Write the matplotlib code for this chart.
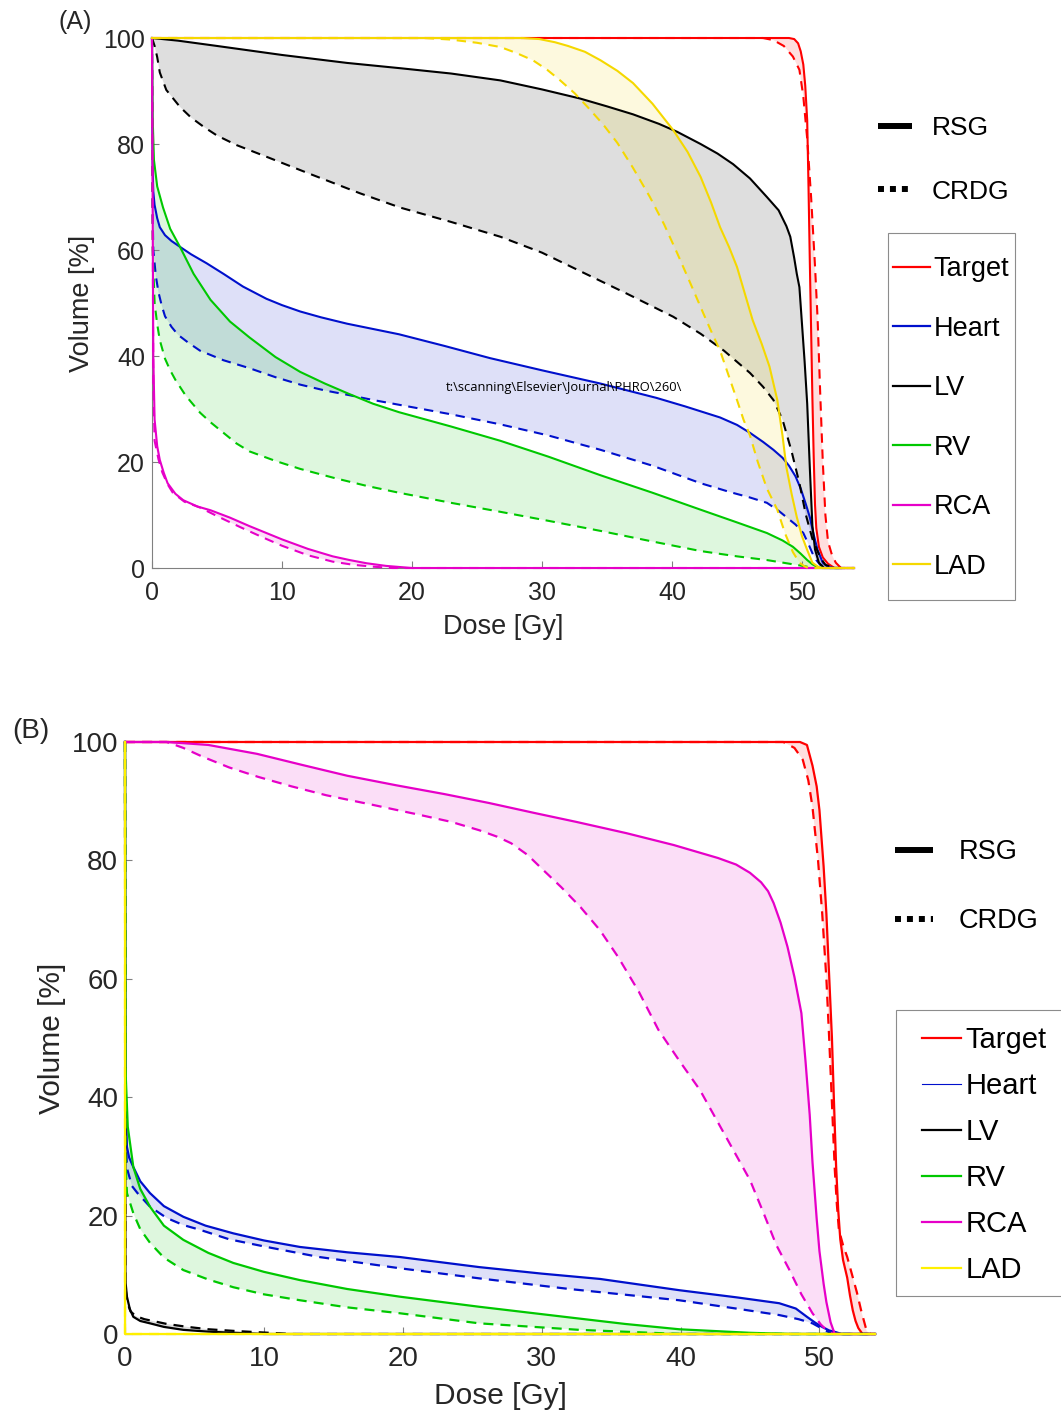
import matplotlib
matplotlib.use('Agg')
import matplotlib.pyplot as plt
from matplotlib.lines import Line2D
from matplotlib.patches import Rectangle
import numpy as np

plt.rcParams['font.family'] = ['Liberation Sans', 'DejaVu Sans']

structures = ['Target', 'Heart', 'LV', 'RV', 'RCA', 'LAD']
dose_ticks = [0, 10, 20, 30, 40, 50]
volume_ticks = [0, 20, 40, 60, 80, 100]

# ---- panel A: cumulative DVHs (dose in Gy, volume in %) ----
a_target_rsg_d = [0, 49.0, 49.4, 49.7, 49.9, 50.1, 50.25, 50.4, 50.5, 50.6, 50.7, 50.8, 50.9, 51.0, 51.1, 51.3, 51.6, 52.0, 52.5, 54]
a_target_rsg_v = [100, 100, 99.8, 99, 97.5, 95, 91, 84.5, 72, 58, 45, 32, 21, 12, 7.5, 4, 2, 0.8, 0, 0]
a_target_crdg_d = [0, 47.0, 47.8, 48.6, 49.3, 49.8, 50.1, 50.4, 50.7, 51.0, 51.2, 51.4, 51.6, 51.8, 52.0, 52.3, 52.6, 53.0, 54]
a_target_crdg_v = [100, 100, 99.6, 98.5, 96.5, 94, 89, 81, 70, 57, 47, 33, 20, 10, 5, 2.5, 1, 0, 0]

a_heart_rsg_d = [0, 0.02, 0.05, 0.1, 0.2, 0.4, 0.6, 1.0, 1.5, 2.15, 3, 4.2, 5.5, 7, 8.8, 10, 11.4, 13, 15, 17, 19, 22.5, 26, 30, 34.5, 38.8, 41, 43.7, 45, 46, 47, 47.8, 48.5, 49, 49.5, 49.9, 50.3, 50.6, 50.9, 51.2, 51.6, 52, 52.5, 53]
a_heart_rsg_v = [100, 85, 75, 71, 68.5, 66, 64.3, 62.8, 61.7, 60.6, 59.2, 57.5, 55.5, 53.1, 50.8, 49.6, 48.4, 47.3, 46.1, 45.1, 44.1, 41.9, 39.6, 37.3, 34.8, 32.1, 30.5, 28.4, 27, 25.5, 23.8, 22.3, 20.8, 19.3, 17.3, 15, 12, 9.6, 6.3, 3.4, 1, 0.2, 0, 0]
a_heart_crdg_d = [0, 0.03, 0.1, 0.3, 0.5, 0.75, 1.0, 1.5, 2.0, 2.8, 3.7, 5.5, 7.5, 9.5, 11.4, 13.3, 15.2, 17, 19, 23, 26.8, 30.5, 34.5, 38.5, 42.2, 44.5, 46, 47.3, 48.2, 48.8, 49.5, 50.1, 50.5, 50.8, 51.1, 51.4, 52, 53]
a_heart_crdg_v = [100, 70, 60, 55, 52, 49.5, 47.5, 45.5, 44, 42.5, 41, 39.2, 37.7, 36.0, 34.6, 33.5, 32.6, 31.7, 30.8, 29, 27.1, 25, 22.3, 19.3, 16, 14.3, 13.3, 12.3, 10.8, 9.6, 8.2, 6.6, 4.5, 2.8, 1.5, 0.6, 0, 0]

a_lv_rsg_d = [0, 2, 5, 10, 15, 19.1, 23, 26.8, 30, 32.9, 35, 37, 39, 40.4, 42.2, 43.5, 44.7, 46, 47.3, 48.2, 48.8, 49.1, 49.4, 49.6, 49.8, 50.0, 50.2, 50.4, 50.6, 50.8, 51.0, 51.3, 51.7, 54]
a_lv_rsg_v = [100, 99.5, 98.5, 96.8, 95.3, 94.3, 93.3, 92, 90.3, 88.6, 87.1, 85.6, 83.8, 82.3, 80, 78.2, 76.2, 73.5, 70, 67.5, 64.5, 62.5, 58.5, 55.5, 53, 46, 39, 31, 19, 8, 3.5, 1, 0, 0]
a_lv_crdg_d = [0, 0.2, 0.4, 0.6, 1.1, 2.15, 3, 4, 5, 6.5, 8.8, 12, 16, 19.1, 23, 26.8, 30, 33.2, 36.5, 40.1, 42.2, 44, 46, 47, 47.8, 48.5, 49.2, 49.8, 50.3, 50.8, 51.4, 51.8, 52.5, 54]
a_lv_crdg_v = [100, 98.5, 96.4, 93.5, 90.2, 87, 85, 83.2, 81.6, 79.8, 77.6, 74.5, 70.7, 68, 65.3, 62.5, 59.5, 55.7, 51.8, 47.4, 44.2, 41, 36.8, 34.2, 31.7, 28, 22, 16, 10, 5.5, 2, 0.6, 0, 0]

a_rv_rsg_d = [0, 0.05, 0.15, 0.4, 0.85, 1.4, 2.15, 3.2, 4.5, 6, 7.5, 9.5, 11.4, 13.3, 15.2, 17, 19, 23, 26.8, 30.5, 34.5, 38.5, 42.2, 45, 47.3, 48.5, 49.3, 49.9, 50.4, 50.8, 51.2, 51.6, 53]
a_rv_rsg_v = [100, 85, 77, 72, 68, 64, 60.6, 55.5, 50.6, 46.5, 43.5, 39.8, 37, 34.8, 32.8, 31, 29.4, 26.7, 24, 21, 17.5, 14.2, 11, 8.6, 6.6, 5.2, 4, 2.7, 1.5, 0.7, 0.2, 0, 0]
a_rv_crdg_d = [0, 0.05, 0.2, 0.4, 0.6, 1.0, 1.4, 1.8, 2.6, 3.7, 4.5, 5.5, 6.5, 7.5, 9.5, 11.4, 14, 16.5, 19, 23, 26.8, 30.5, 34.5, 38.5, 42.2, 45, 47.3, 48.8, 49.8, 50.5, 51, 53]
a_rv_crdg_v = [100, 60, 50, 46, 43, 39.5, 37.3, 35.5, 32.5, 29.3, 27.5, 25.5, 23.5, 22, 20.2, 18.7, 17, 15.5, 14.2, 12.3, 10.6, 8.9, 7, 5, 3.2, 2.2, 1.5, 0.9, 0.5, 0.2, 0, 0]

a_rca_rsg_d = [0, 0.1, 0.2, 0.4, 0.6, 0.9, 1.2, 1.8, 2.4, 3.5, 4.5, 6, 7.5, 8.8, 10, 12, 13.9, 15.2, 16.5, 18, 19, 20, 54]
a_rca_rsg_v = [100, 40, 28, 23, 20.4, 18, 16, 14, 12.8, 11.6, 10.9, 9.5, 7.9, 6.6, 5.4, 3.6, 2.2, 1.5, 0.9, 0.4, 0.2, 0, 0]
a_rca_crdg_d = [0, 0.1, 0.2, 0.5, 0.8, 1.2, 1.6, 2.5, 3.7, 5, 6.8, 8.5, 10, 12, 13.9, 15.5, 17, 18.5, 54]
a_rca_crdg_v = [100, 35, 24, 20.5, 18, 15.8, 14.2, 12.5, 11.4, 9.8, 7.7, 5.8, 4.2, 2.4, 1.2, 0.6, 0.25, 0, 0]

a_lad_rsg_d = [0, 28.5, 29.8, 31, 32, 33.3, 34.5, 35.8, 37, 38.5, 40.1, 41.2, 42.2, 43, 43.7, 44.4, 45, 45.6, 46.2, 46.9, 47.5, 48.1, 48.5, 48.8, 49.2, 49.6, 50, 50.4, 50.8, 51.2, 51.5, 54]
a_lad_rsg_v = [100, 100, 99.8, 99.2, 98.5, 97.4, 95.8, 93.8, 91.5, 87.6, 82.6, 78.5, 73.8, 69, 64.3, 60.5, 56.8, 51.8, 46.8, 42.3, 38, 31.7, 25, 19, 14, 9.6, 6, 3.4, 1, 0.3, 0, 0]
a_lad_crdg_d = [0, 21, 23, 25, 26.8, 28, 29.3, 30.4, 31.4, 32.5, 33.5, 34.7, 35.8, 37, 38.3, 39.4, 40.4, 41.4, 42.4, 43.1, 43.7, 44.4, 45, 45.5, 46, 46.6, 47.3, 48.1, 48.7, 49.3, 49.8, 50.2, 50.5, 54]
a_lad_crdg_v = [100, 100, 99.7, 99.1, 98.3, 97.2, 95.8, 94, 92, 89.6, 87, 83.7, 80.2, 75.5, 70, 64.8, 59.4, 53.8, 48.1, 44.2, 41, 36, 31.7, 28, 25, 20, 15, 11, 6.5, 3, 1, 0.3, 0, 0]

# ---- panel B ----
b_target_rsg_d = [0, 48.6, 49.1, 49.5, 49.8, 50.0, 50.3, 50.5, 50.7, 50.9, 51.05, 51.2, 51.35, 51.5, 51.7, 52.0, 52.2, 52.4, 52.6, 52.8, 53.1, 54]
b_target_rsg_v = [100, 100, 99.5, 96, 92.5, 88.5, 79, 71, 60.5, 50, 39, 28.4, 21, 16, 12.5, 9.5, 6.5, 4, 2.2, 1, 0, 0]
b_target_crdg_d = [0, 47.4, 48.2, 48.8, 49.2, 49.5, 49.9, 50.2, 50.5, 50.7, 50.9, 51.1, 51.25, 51.4, 51.7, 52.0, 52.35, 52.7, 53.0, 53.4, 53.7, 54]
b_target_crdg_v = [100, 100, 99, 97, 93.5, 89, 80, 71, 60, 50, 39, 28, 22, 17.6, 15, 13, 10, 7, 4, 0.5, 0, 0]

b_heart_rsg_d = [0, 0.03, 0.14, 0.3, 0.6, 1.1, 1.8, 2.8, 4.2, 5.8, 7.8, 10, 12.6, 16, 19.8, 25.5, 30, 34.2, 39.9, 44, 47.1, 48.3, 49.1, 49.7, 50.2, 50.7, 51.2, 51.6, 54]
b_heart_rsg_v = [100, 40, 31.6, 29.8, 28.2, 25.8, 23.8, 21.6, 19.8, 18.3, 17, 15.8, 14.7, 13.8, 13, 11.3, 10.2, 9.3, 7.4, 6.2, 5.2, 4.3, 2.9, 1.9, 1.2, 0.6, 0.3, 0, 0]
b_heart_crdg_d = [0, 0.03, 0.14, 0.5, 0.9, 1.8, 3, 4.2, 5.4, 7.5, 10.2, 14, 19.8, 25.5, 32, 39.9, 44, 47.1, 48.5, 49.5, 50.2, 50.7, 51.2, 54]
b_heart_crdg_v = [100, 35, 28, 25, 23.8, 21.5, 19.6, 18.4, 17.6, 16, 14.7, 13, 11.1, 9.4, 7.6, 5.7, 4.3, 3.2, 2.5, 1.8, 0.9, 0.3, 0, 0]

b_lv_rsg_d = [0, 0.03, 0.14, 0.35, 0.6, 1.1, 1.8, 2.8, 4.2, 6, 7.8, 10, 54]
b_lv_rsg_v = [100, 9, 6.3, 4.2, 2.9, 2.2, 1.8, 1.2, 0.7, 0.4, 0.2, 0, 0]
b_lv_crdg_d = [0, 0.03, 0.14, 0.4, 0.8, 1.4, 2.0, 3, 4.5, 6, 8, 12, 54]
b_lv_crdg_v = [100, 8, 5.5, 3.8, 3, 2.5, 2.2, 1.7, 1.2, 0.8, 0.5, 0, 0]

b_rv_rsg_d = [0, 0.03, 0.2, 0.6, 1.1, 1.8, 2.8, 4.2, 6, 7.8, 10, 12.6, 16, 19.8, 25.5, 32, 36, 39.9, 45, 48, 54]
b_rv_rsg_v = [100, 45, 35, 28.2, 24.5, 21.5, 18.3, 15.9, 13.7, 12, 10.5, 9.1, 7.6, 6.3, 4.6, 2.8, 1.7, 0.8, 0.2, 0, 0]
b_rv_crdg_d = [0, 0.03, 0.14, 0.6, 1.1, 1.8, 2.8, 4.2, 6, 7.8, 10, 12.6, 16, 19.8, 25.5, 32.7, 40, 54]
b_rv_crdg_v = [100, 30, 23.8, 20.4, 17.7, 15.4, 12.9, 10.8, 9.2, 7.9, 6.7, 5.7, 4.5, 3.5, 1.8, 0.7, 0, 0]

b_rca_rsg_d = [0, 3.0, 6, 9.5, 12.8, 16, 19.5, 23, 26.2, 29.5, 32.5, 36.1, 39.5, 42.7, 44, 45, 45.8, 46.3, 46.7, 47.2, 47.7, 48.2, 48.7, 49.0, 49.3, 49.5, 49.8, 50.0, 50.3, 50.5, 50.8, 51.1, 54]
b_rca_rsg_v = [100, 100, 99.5, 98, 96.1, 94.3, 92.7, 91.2, 89.7, 88, 86.5, 84.6, 82.6, 80.4, 79.3, 77.9, 76.3, 74.8, 72.8, 69.5, 65.4, 60.3, 54.2, 46, 37, 29, 19.5, 14, 8.5, 5.4, 2, 0, 0]
b_rca_crdg_d = [0, 3.0, 4.2, 5.6, 7.5, 9.6, 12, 14.5, 17.8, 21.2, 23.5, 25.5, 26.8, 27.8, 29, 30.1, 31.4, 32.8, 34.2, 35.5, 37, 38.4, 39.9, 41.4, 43.2, 45, 46, 46.9, 47.8, 48.7, 49.5, 50.1, 50.5, 51, 54]
b_rca_crdg_v = [100, 100, 99, 97.5, 95.7, 94.1, 92.5, 91, 89.4, 87.7, 86.5, 85.1, 84, 82.9, 80.9, 78.4, 75.5, 72.1, 68.2, 63.7, 57.8, 51.4, 46.2, 41.2, 33.6, 26, 20.3, 15, 11, 6.7, 3.5, 1.6, 0.7, 0, 0]

b_lad_rsg_d = [0, 0, 54]
b_lad_rsg_v = [100, 0, 0]
b_lad_crdg_d = [0, 0, 54]
b_lad_crdg_v = [100, 0, 0]

colors_a = {'Target': '#ff0000', 'Heart': '#0010cc', 'LV': '#000000',
            'RV': '#00c800', 'RCA': '#e600c8', 'LAD': '#f5d800'}
colors_b = dict(colors_a, LAD='#fff000')

curves_a = {
    'Target': (a_target_rsg_d, a_target_rsg_v, a_target_crdg_d, a_target_crdg_v),
    'Heart': (a_heart_rsg_d, a_heart_rsg_v, a_heart_crdg_d, a_heart_crdg_v),
    'LV': (a_lv_rsg_d, a_lv_rsg_v, a_lv_crdg_d, a_lv_crdg_v),
    'RV': (a_rv_rsg_d, a_rv_rsg_v, a_rv_crdg_d, a_rv_crdg_v),
    'RCA': (a_rca_rsg_d, a_rca_rsg_v, a_rca_crdg_d, a_rca_crdg_v),
    'LAD': (a_lad_rsg_d, a_lad_rsg_v, a_lad_crdg_d, a_lad_crdg_v),
}
curves_b = {
    'Target': (b_target_rsg_d, b_target_rsg_v, b_target_crdg_d, b_target_crdg_v),
    'Heart': (b_heart_rsg_d, b_heart_rsg_v, b_heart_crdg_d, b_heart_crdg_v),
    'LV': (b_lv_rsg_d, b_lv_rsg_v, b_lv_crdg_d, b_lv_crdg_v),
    'RV': (b_rv_rsg_d, b_rv_rsg_v, b_rv_crdg_d, b_rv_crdg_v),
    'RCA': (b_rca_rsg_d, b_rca_rsg_v, b_rca_crdg_d, b_rca_crdg_v),
    'LAD': (b_lad_rsg_d, b_lad_rsg_v, b_lad_crdg_d, b_lad_crdg_v),
}

DASH = (0, (4.5, 3.2))
W, H = 1061, 1414


def draw_dvh(ax, curves, colors, lw):
    # shaded band between the two plans
    for name in structures:
        d_r, v_r, d_c, v_c = curves[name]
        ax.fill(np.r_[d_r, d_c[::-1]], np.r_[v_r, v_c[::-1]],
                color=colors[name], alpha=0.13, lw=0, zorder=1)
    for name in structures:
        d_r, v_r, d_c, v_c = curves[name]
        ax.plot(d_c, v_c, color=colors[name], lw=lw, ls=DASH, clip_on=False, zorder=3)
        ax.plot(d_r, v_r, color=colors[name], lw=lw, clip_on=False, zorder=3)


def style_axes(ax, fs, labelfs, ylabelpad):
    ax.set_xlim(0, 54)
    ax.set_ylim(0, 100)
    ax.set_xticks(dose_ticks)
    ax.set_yticks(volume_ticks)
    for s in ['top', 'right']:
        ax.spines[s].set_visible(False)
    for s in ['left', 'bottom']:
        ax.spines[s].set_color('#808080')
        ax.spines[s].set_linewidth(0.8)
    ax.tick_params(direction='in', length=5, width=0.8, color='#808080',
                   labelsize=fs, labelcolor='#262626', pad=5)
    ax.tick_params(axis='x', pad=9)
    ax.set_xlabel('Dose [Gy]', fontsize=labelfs, color='#262626', labelpad=7)
    ax.set_ylabel('Volume [%]', fontsize=labelfs, color='#262626', labelpad=ylabelpad)


fig = plt.figure(figsize=(10.61, 14.14), dpi=100)
ax_a = fig.add_axes([0.14326, 0.59830, 0.66164, 0.37482])
ax_b = fig.add_axes([0.11781, 0.05658, 0.70688, 0.41867])

draw_dvh(ax_a, curves_a, colors_a, 1.5)
draw_dvh(ax_b, curves_b, colors_b, 1.6)
style_axes(ax_a, 18, 19.5, 6)
style_axes(ax_b, 20, 21.5, 4)

fig.text(75 / W, 1 - 22 / H, '(A)', ha='center', va='center', fontsize=18, color='#262626')
fig.text(31 / W, 1 - 731 / H, '(B)', ha='center', va='center', fontsize=20, color='#262626')
fig.text(446 / W, 1 - 387 / H, 't:\\scanning\\Elsevier\\Journal\\PHRO\\260\\',
         ha='left', va='center', fontsize=9.3, family=['Open Sans', 'DejaVu Sans'])


def structure_legend(ax, colors, fs, anchor, spacing, heart_lw):
    handles = [Line2D([], [], color=colors[n], lw=(heart_lw if n == 'Heart' else 1.6))
               for n in structures]
    return ax.legend(handles, structures, loc='upper left', bbox_to_anchor=anchor,
                     bbox_transform=fig.transFigure, fontsize=fs, frameon=False,
                     handlelength=1.35, handletextpad=0.15, labelspacing=spacing,
                     borderpad=0, borderaxespad=0)


def plan_legend(ax, fs, anchor, spacing, handlelength, textpad):
    handles = [Line2D([], [], color='k', lw=4.3, solid_capstyle='butt'),
               Line2D([], [], color='k', lw=4.3, ls=(0, (1, 1)), dash_capstyle='butt')]
    return ax.legend(handles, ['RSG', 'CRDG'], loc='upper left', bbox_to_anchor=anchor,
                     bbox_transform=fig.transFigure, fontsize=fs, frameon=False,
                     handlelength=handlelength, handletextpad=textpad,
                     labelspacing=spacing, borderpad=0, borderaxespad=0)


def legend_box(leg, left, right, top, bottom):
    # frame around a legend, padded in pixels around its contents
    bb = leg.get_window_extent(renderer=fig.canvas.get_renderer())
    x0, x1 = (bb.x0 - left) / W, (bb.x1 + right) / W
    y0, y1 = (bb.y0 - bottom) / H, (bb.y1 + top) / H
    fig.add_artist(Rectangle((x0, y0), x1 - x0, y1 - y0, transform=fig.transFigure,
                             fill=False, edgecolor='#8c8c8c', lw=0.8))


leg_a = structure_legend(ax_a, colors_a, 19.5, (893 / W, 1 - 256 / H), 1.24, 1.6)
ax_a.add_artist(leg_a)
plan_legend(ax_a, 19, (878 / W, 1 - 116 / H), 1.5, 1.3, 0.75)

leg_b = structure_legend(ax_b, colors_b, 21, (922 / W, 1 - 1026 / H), 0.62, 0.8)
ax_b.add_artist(leg_b)
plan_legend(ax_b, 19.5, (895 / W, 1 - 839 / H), 1.6, 1.4, 0.95)

fig.canvas.draw()
legend_box(leg_a, 5, 6, 23, 20)
legend_box(leg_b, 26, 26, 16, 12)

fig.savefig('out.png', dpi=100)
